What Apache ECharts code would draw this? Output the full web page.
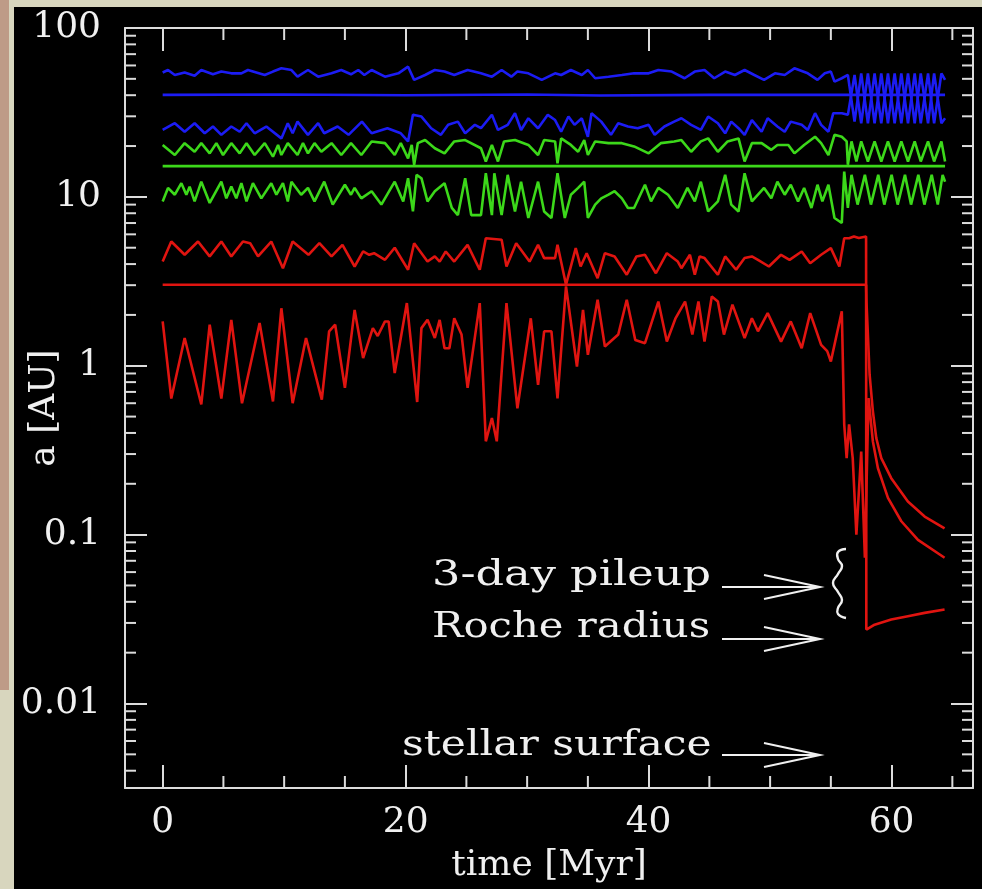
<!DOCTYPE html>
<html>
<head>
<meta charset="utf-8">
<title>Semi-major axis vs time</title>
<script src="https://cdn.jsdelivr.net/npm/echarts@6/dist/echarts.min.js"></script>
<style>
  html, body { margin: 0; padding: 0; }
  body { width: 982px; height: 889px; background: #d8d6be; position: relative; overflow: hidden; }
  #strip { position: absolute; left: 0; top: 0; width: 9px; height: 690px; background: #be9b87; }
  #main { position: absolute; left: 14px; top: 7px; width: 968px; height: 882px; background: #000; }
</style>
</head>
<body>
<div id="strip"></div>
<div id="main"></div>
<script>
// axis ranges and tick labels
var xMin = -3.1, xMax = 66.7;
var yMin = 0.00316, yMax = 100;
var xTickVals = [0, 20, 40, 60];
var xTickText = ['0', '20', '40', '60'];
var yTickVals = [0.01, 0.1, 1, 10, 100];
var yTickText = ['0.01', '0.1', '1', '10', '100'];
var xMinorTicks = [5, 10, 15, 25, 30, 35, 45, 50, 55, 65];
var decades = [0.001, 0.01, 0.1, 1, 10];
var mantissas = [2, 3, 4, 5, 6, 7, 8, 9];

// [time Myr, a AU]
var blueOuter = [[0,54.5],[0.44,56.4],[1.0,52.7],[1.81,54.5],[2.63,52.2],[3.18,56.4],[4.14,53.2],[4.83,55.2],[5.65,53.9],[6.48,53.9],[7.02,56.4],[8.4,52.7],[9.08,55.2],[9.77,57.7],[10.6,56.4],[11.1,51.5],[11.96,56.4],[12.8,51.5],[13.9,53.9],[14.7,56.4],[15.5,53.2],[16.1,56.4],[16.6,52.7],[17.2,56.4],[18.3,51.5],[19.4,53.9],[20.2,59.0],[20.7,49.3],[21.6,52.7],[22.4,56.4],[23.2,55.2],[24.0,52.7],[25.1,56.4],[26.2,53.9],[27.1,51.5],[27.9,56.4],[28.7,51.5],[29.2,55.2],[30.1,53.9],[31.2,49.3],[32.3,53.9],[32.8,52.7],[33.6,56.4],[34.5,52.7],[35.0,56.4],[35.6,50.4],[36.7,51.5],[37.8,52.7],[38.8,53.9],[40.0,53.9],[40.8,56.4],[41.9,55.2],[42.96,50.4],[43.8,55.2],[44.6,56.4],[45.4,50.4],[46.3,55.2],[47.1,52.7],[47.9,56.4],[48.7,52.7],[49.5,49.3],[50.4,53.9],[51.2,52.7],[52.0,57.7],[53.1,53.9],[53.9,49.3],[54.5,53.9],[55.0,55.2],[55.3,48.1],[55.9,50.4],[56.4,52.7],[56.95,27.9],[57.5,53.9],[58.05,27.3],[58.6,53.9],[59.15,27.3],[59.7,53.9],[60.25,27.3],[60.8,53.9],[61.35,27.3],[61.9,53.9],[62.4,27.3],[63.0,53.9],[63.5,27.3],[64.1,53.9],[64.4,49.3]];
var blueMid = [[0,40.2],[10,40.4],[20,40.0],[30,40.4],[36,39.8],[45,40.2],[56,40.2],[64.4,40.2]];
var blueInner = [[0,24.9],[1.0,27.3],[1.81,24.3],[2.63,27.3],[3.46,23.8],[4.14,26.1],[4.83,23.3],[5.65,26.1],[6.34,24.3],[6.9,27.3],[7.57,23.8],[8.53,26.1],[9.77,22.2],[10.3,27.3],[10.7,23.8],[11.1,27.9],[11.96,23.3],[12.8,27.3],[13.3,23.8],[14.4,26.1],[15.3,23.3],[16.4,27.9],[17.2,23.8],[18.5,25.5],[19.6,23.8],[20.2,21.3],[20.6,30.6],[21.3,29.9],[22.1,25.5],[22.9,23.3],[23.5,26.7],[24.3,27.9],[24.9,23.8],[25.7,26.7],[26.2,25.5],[27.1,30.6],[27.6,24.9],[28.4,26.7],[29.0,31.3],[29.5,24.9],[30.1,29.2],[30.9,25.5],[31.7,30.6],[32.3,28.5],[32.8,24.3],[33.4,29.9],[33.9,26.7],[34.5,29.2],[35.0,22.7],[35.3,31.3],[36.1,27.9],[36.9,23.3],[37.5,27.3],[38.3,26.1],[39.1,25.5],[40.0,26.7],[40.5,23.3],[41.3,26.1],[42.1,27.9],[42.7,29.2],[43.5,26.7],[44.3,24.9],[44.9,29.9],[45.7,27.3],[46.3,23.8],[46.8,27.9],[47.4,25.5],[47.9,23.3],[48.5,28.5],[49.3,24.3],[49.8,29.2],[50.6,26.1],[51.2,24.3],[51.7,27.9],[52.6,26.7],[53.1,24.9],[53.7,31.3],[54.2,26.7],[54.8,24.3],[55.2,31.3],[55.9,31.3],[56.4,30.6],[56.95,52.7],[57.5,27.3],[58.05,53.9],[58.6,27.3],[59.15,53.9],[59.7,27.3],[60.25,53.9],[60.8,27.3],[61.35,53.9],[61.9,27.3],[62.4,53.9],[63.0,27.3],[63.5,53.9],[64.1,27.3],[64.4,29.2]];
var greenOuter = [[0,20.3],[1.0,17.7],[1.81,20.8],[2.63,18.5],[3.18,20.8],[3.87,18.1],[4.42,20.8],[4.97,17.7],[5.65,20.8],[6.34,18.1],[6.9,20.8],[7.57,17.7],[8.4,20.8],[9.08,17.3],[9.5,20.3],[9.77,17.7],[10.3,20.8],[11.1,17.7],[11.55,20.8],[11.96,18.1],[12.5,20.8],[13.06,18.5],[13.9,20.8],[14.7,17.7],[15.5,20.8],[16.35,17.7],[17.2,21.3],[18.3,20.8],[19.1,17.7],[19.6,20.8],[20.2,16.9],[20.5,20.3],[20.7,15.5],[21.0,20.8],[21.6,21.7],[22.4,19.4],[23.2,18.1],[24.0,21.3],[24.9,21.7],[26.2,19.4],[26.6,16.2],[27.1,20.3],[27.6,16.2],[28.1,21.3],[29.0,21.7],[30.1,20.3],[30.9,17.7],[31.4,21.7],[32.3,21.3],[32.5,15.8],[32.8,22.2],[33.6,20.3],[34.2,18.5],[34.7,21.7],[35.0,17.7],[35.6,21.3],[36.7,20.8],[37.8,20.8],[38.8,19.9],[40.0,18.1],[41.0,20.8],[42.1,21.3],[42.7,21.7],[43.5,18.5],[44.3,21.3],[44.9,22.2],[45.7,18.5],[46.5,21.3],[47.4,22.2],[47.9,16.2],[48.5,20.8],[49.3,20.8],[50.1,19.0],[50.6,20.3],[51.5,20.3],[52.0,18.1],[52.8,20.3],[53.7,22.7],[54.2,20.8],[54.8,17.7],[55.3,23.3],[55.9,22.7],[56.3,21.3],[56.4,15.5],[56.7,21.3],[57.1,16.2],[57.5,21.3],[58.05,16.2],[58.6,21.3],[59.15,16.2],[59.7,21.3],[60.25,16.2],[60.8,21.3],[61.35,16.2],[61.9,21.3],[62.4,16.2],[63.0,21.3],[63.5,16.2],[64.1,21.3],[64.4,16.2]];
var greenMid = [[0,15.2],[64.4,15.2]];
var greenInner = [[0,9.4],[0.44,11.3],[1.0,10.3],[1.54,12.05],[1.95,10.3],[2.22,11.5],[2.63,9.4],[3.18,12.3],[3.87,9.2],[4.83,12.3],[5.24,9.8],[5.65,11.5],[6.06,9.8],[6.48,12.05],[6.9,9.4],[7.43,12.05],[8.12,9.8],[8.94,12.05],[9.36,10.3],[9.9,12.05],[10.3,9.4],[10.6,12.3],[11.4,10.3],[11.96,11.3],[12.5,9.4],[13.3,12.3],[14.0,9.0],[15.0,11.8],[15.5,10.3],[15.8,11.3],[16.35,9.8],[17.2,10.8],[18.0,9.0],[19.1,12.3],[19.8,9.4],[20.2,12.9],[20.6,8.2],[20.9,13.5],[21.3,12.9],[21.8,9.4],[22.4,10.8],[23.2,12.05],[23.8,8.6],[24.3,7.8],[24.9,12.9],[25.4,7.8],[26.2,7.8],[26.6,13.8],[27.1,7.8],[27.3,13.8],[27.9,7.8],[28.4,13.5],[29.0,8.2],[29.5,12.3],[30.1,7.5],[30.9,12.3],[31.4,8.2],[32.0,7.5],[32.5,13.8],[33.1,7.5],[33.6,10.3],[34.2,11.3],[34.7,12.3],[35.0,7.5],[35.6,9.0],[36.1,9.8],[36.7,10.3],[37.2,10.8],[37.8,9.8],[38.3,8.6],[38.8,8.6],[39.7,11.8],[40.2,9.4],[40.8,11.3],[41.6,10.3],[42.4,8.6],[43.2,11.3],[43.8,9.4],[44.3,12.3],[44.9,8.2],[45.7,9.4],[46.3,13.5],[46.8,9.0],[47.4,8.2],[47.9,13.8],[48.5,9.4],[49.0,10.3],[49.5,11.3],[50.1,9.8],[50.6,12.3],[51.2,10.3],[51.7,11.8],[52.3,9.4],[52.8,11.3],[53.4,8.6],[53.9,11.8],[54.3,9.4],[54.8,11.8],[55.3,7.5],[55.9,7.0],[56.1,14.1],[56.4,8.6],[56.7,13.5],[57.2,9.0],[57.8,13.5],[58.3,9.0],[58.9,13.5],[59.4,9.0],[60.0,13.5],[60.5,9.0],[61.1,13.5],[61.6,9.0],[62.2,13.5],[62.7,9.0],[63.3,13.5],[63.8,9.0],[64.2,13.5],[64.4,12.3]];
var redOuter = [[0,4.14],[0.71,5.44],[1.81,4.54],[2.91,5.44],[3.87,4.44],[4.83,5.44],[5.65,4.44],[6.61,5.44],[7.2,5.32],[7.85,4.44],[8.94,5.44],[9.9,3.78],[10.7,5.44],[12.0,4.54],[12.9,5.32],[13.9,4.44],[14.8,5.2],[15.8,3.87],[16.5,4.75],[17.0,4.54],[17.4,4.64],[18.3,4.24],[19.1,5.0],[20.2,3.70],[20.7,5.32],[21.8,4.14],[22.4,4.44],[22.8,4.14],[23.3,4.75],[24.0,4.14],[25.1,5.2],[26.1,3.70],[26.6,5.69],[27.9,5.57],[28.3,3.87],[29.1,5.32],[30.2,4.14],[30.9,5.2],[31.4,4.34],[32.3,4.34],[32.5,5.2],[33.2,3.02],[34.0,4.97],[34.4,3.87],[34.9,4.64],[35.8,3.30],[36.4,4.64],[37.2,4.44],[38.2,3.46],[39.0,4.44],[39.7,4.54],[40.6,3.53],[41.5,4.64],[42.4,4.14],[42.7,3.78],[43.4,4.54],[43.8,3.46],[44.2,4.44],[44.6,4.34],[45.7,3.46],[46.3,4.44],[47.2,3.70],[47.9,4.34],[48.5,4.44],[49.0,4.24],[49.9,3.87],[50.9,4.54],[51.6,4.24],[52.6,4.75],[53.3,4.05],[54.2,4.54],[55.0,4.97],[55.7,3.87],[56.1,5.69],[56.5,5.69],[56.9,5.83],[57.3,5.7],[57.9,5.83],[57.92,0.0274],[58.6,0.0293],[59.97,0.0314],[61.34,0.0329],[62.72,0.0344],[64.36,0.036]];
var redMid = [[0,3.02],[57.9,3.02],[57.93,2.4],[58.19,0.885],[58.46,0.537],[58.74,0.373],[59.15,0.284],[59.97,0.216],[61.34,0.157],[62.72,0.128],[64.36,0.109]];
var redInner = [[0,1.83],[0.71,0.64],[1.81,1.46],[3.18,0.59],[3.87,1.75],[4.83,0.64],[5.65,1.87],[6.53,0.60],[7.98,1.79],[9.08,0.615],[9.77,2.19],[10.7,0.60],[11.8,1.46],[13.1,0.63],[13.7,1.60],[14.2,1.75],[15.0,0.74],[15.8,2.14],[16.5,1.11],[17.3,1.67],[17.7,1.50],[18.3,1.83],[18.6,1.83],[19.1,0.905],[20.1,2.35],[20.95,0.61],[21.3,1.67],[21.8,1.87],[22.4,1.46],[22.8,1.87],[23.2,1.27],[23.6,1.27],[24.0,1.91],[24.6,1.53],[25.1,0.74],[26.1,2.35],[26.6,0.357],[27.1,0.49],[27.5,0.357],[28.3,2.35],[29.2,0.56],[30.3,1.91],[30.9,0.77],[31.4,1.60],[32.0,1.60],[32.5,0.64],[33.2,2.95],[34.1,0.99],[34.6,2.14],[35.0,1.16],[35.8,2.46],[36.4,1.30],[37.5,1.53],[38.2,2.46],[38.9,1.42],[39.7,1.36],[40.8,2.40],[41.5,1.39],[42.2,1.9],[43.0,2.40],[43.6,1.53],[44.1,2.40],[44.6,1.39],[45.2,2.57],[45.7,2.40],[46.2,1.53],[46.9,2.30],[47.9,1.46],[48.5,1.91],[49.0,1.60],[49.8,2.05],[50.9,1.39],[51.7,1.83],[52.6,1.27],[53.3,2.05],[54.2,1.33],[54.7,1.22],[55.0,1.06],[55.9,2.10],[56.1,0.45],[56.3,0.284],[56.5,0.45],[56.8,0.284],[57.1,0.10],[57.5,0.31],[57.8,0.073],[58.1,0.644],[58.46,0.356],[58.87,0.248],[59.7,0.165],[60.8,0.12],[62.17,0.093],[64.36,0.073]];

var blue = '#1c1cf4', green = '#3cd81a', red = '#e01410';
var axisColor = '#dcdcdc', textColor = '#f0f0f0';
var serif = 'DejaVu Serif';

var yMinorTicks = [];
decades.forEach(function (d) {
  mantissas.forEach(function (m) {
    var v = +(d * m).toPrecision(3);
    if (v > yMin && v < yMax) yMinorTicks.push(v);
  });
});

function lineSeries(data, color) {
  return {
    type: 'line', data: data, showSymbol: false, symbol: 'none',
    lineStyle: { color: color, width: 2.6 }, silent: true, z: 3
  };
}

function tickLine(x1, y1, x2, y2) {
  return { type: 'line', shape: { x1: x1, y1: y1, x2: x2, y2: y2 },
    style: { stroke: axisColor, lineWidth: 2 } };
}

function axisBase(pos) {
  return {
    position: pos,
    axisLine: { onZero: false, lineStyle: { color: axisColor, width: 2 } },
    splitLine: { show: false },
    minorTick: { show: false }
  };
}

var chart = echarts.init(document.getElementById('main'));

var xBottom = Object.assign(axisBase('bottom'), {
  type: 'value', min: xMin, max: xMax, splitNumber: 4,
  axisTick: { inside: true, length: 23, lineStyle: { color: axisColor, width: 2 } },
  axisLabel: {
    color: textColor, fontFamily: serif, fontSize: 36, margin: 17,
    showMinLabel: false, showMaxLabel: false,
    formatter: function (v) {
      var i = xTickVals.indexOf(Math.round(v));
      return (i >= 0 && Math.abs(v - Math.round(v)) < 1e-6) ? xTickText[i] : '';
    }
  },
  name: 'time [Myr]', nameLocation: 'middle', nameGap: 60, nameMoveOverlap: false,
  nameTextStyle: { color: textColor, fontFamily: serif, fontSize: 36 }
});
var xTop = Object.assign(axisBase('top'), {
  type: 'value', min: xMin, max: xMax, splitNumber: 4,
  axisTick: { inside: true, length: 23, lineStyle: { color: axisColor, width: 2 } },
  axisLabel: { show: false }
});
var yLeft = Object.assign(axisBase('left'), {
  type: 'log', logBase: 10, min: yMin, max: yMax,
  axisTick: { inside: true, length: 22, lineStyle: { color: axisColor, width: 2 } },
  axisLabel: {
    color: textColor, fontFamily: serif, fontSize: 36, margin: 24,
    showMinLabel: false,
    formatter: function (v) {
      for (var i = 0; i < yTickVals.length; i++) {
        if (Math.abs(Math.log10(v) - Math.log10(yTickVals[i])) < 0.01) return yTickText[i];
      }
      return '';
    }
  },
  name: 'a [AU]', nameLocation: 'middle', nameGap: 62, nameMoveOverlap: false,
  nameTextStyle: { color: textColor, fontFamily: serif, fontSize: 36 }
});
var yRight = Object.assign(axisBase('right'), {
  type: 'log', logBase: 10, min: yMin, max: yMax,
  axisTick: { inside: true, length: 22, lineStyle: { color: axisColor, width: 2 } },
  axisLabel: { show: false }
});

// annotation helpers (chart pixel coords)
function label(text, x, y, sx) {
  return { type: 'text', x: x, y: y, scaleX: sx, silent: true,
    style: { text: text, fill: textColor, font: '36px "DejaVu Serif"', textVerticalAlign: 'middle' } };
}
function arrow(y) {
  return { type: 'group', silent: true, children: [
    { type: 'line', shape: { x1: 708, y1: y, x2: 806, y2: y }, style: { stroke: textColor, lineWidth: 2 } },
    { type: 'polyline', shape: { points: [[750, y - 12], [806, y], [750, y + 12]] }, style: { stroke: textColor, lineWidth: 2, fill: null } }
  ] };
}

chart.setOption({
  animation: false,
  backgroundColor: '#000',
  grid: { left: 111, top: 21, right: 9, bottom: 101, containLabel: false, outerBoundsMode: 'none' },
  xAxis: [xBottom, xTop],
  yAxis: [yLeft, yRight],
  series: [
    lineSeries(blueOuter, blue),
    lineSeries(blueMid, blue),
    lineSeries(blueInner, blue),
    lineSeries(greenOuter, green),
    lineSeries(greenMid, green),
    lineSeries(greenInner, green),
    lineSeries(redOuter, red),
    lineSeries(redMid, red),
    lineSeries(redInner, red),
    {
      type: 'custom', silent: true, z: 4,
      data: yMinorTicks.map(function (v) { return [xMin, v]; }),
      renderItem: function (params, api) {
        var v = api.value(1);
        var pl = api.coord([xMin, v]);
        var pr = api.coord([xMax, v]);
        return { type: 'group', children: [
          tickLine(pl[0], pl[1], pl[0] + 11, pl[1]),
          tickLine(pr[0], pr[1], pr[0] - 11, pr[1])
        ] };
      }
    },
    {
      type: 'custom', silent: true, z: 4,
      data: xMinorTicks.map(function (t) { return [t, yMin]; }),
      renderItem: function (params, api) {
        var t = api.value(0);
        var pb = api.coord([t, yMin]);
        var pt = api.coord([t, yMax]);
        return { type: 'group', children: [
          tickLine(pb[0], pb[1], pb[0], pb[1] - 12),
          tickLine(pt[0], pt[1], pt[0], pt[1] + 12)
        ] };
      }
    }
  ],
  graphic: [
    label('3-day pileup', 418, 569, 1.24),
    label('Roche radius', 418, 621, 1.16),
    label('stellar surface', 388, 739, 1.18),
    arrow(580), arrow(632), arrow(748),
    { type: 'polyline', silent: true,
      shape: { smooth: 0.5, points: [[832,542],[824,545],[824,552],[828,559],[824,567],[819,576],[824,585],[828,593],[824,601],[824,607],[832,611]] },
      style: { stroke: textColor, lineWidth: 2.4, fill: null } }
  ]
});
</script>
</body>
</html>
